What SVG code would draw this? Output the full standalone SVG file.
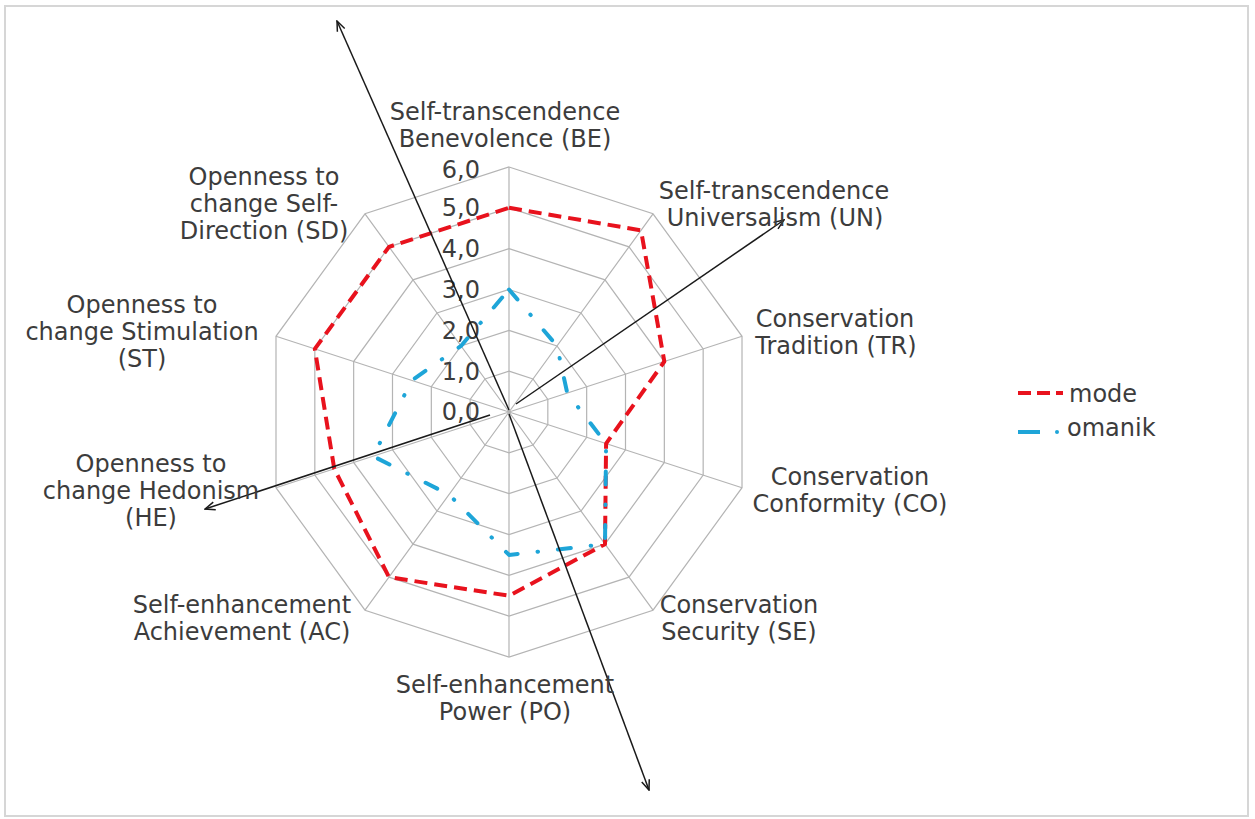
<svg xmlns="http://www.w3.org/2000/svg" width="1255" height="819" viewBox="0 0 1255 819">
<style>
.lbl{font-family:"DejaVu Sans",Verdana,sans-serif;font-size:24px;fill:#3c3c3c;text-anchor:middle}
.tick{font-family:"DejaVu Sans",Verdana,sans-serif;font-size:24px;fill:#3c3c3c;text-anchor:end}
.leg{font-family:"DejaVu Sans",Verdana,sans-serif;font-size:24px;fill:#3c3c3c}
.ring{fill:none;stroke:#b4b4b4;stroke-width:1.2}
.spoke{stroke:#b4b4b4;stroke-width:1.2}
.mode{fill:none;stroke:#e8121d;stroke-width:4;stroke-dasharray:13 7;stroke-linejoin:round}
.oman{fill:none;stroke:#1ea5d8;stroke-width:4;stroke-dasharray:13 20 0.5 20;stroke-linecap:round;stroke-linejoin:round}
.arr{fill:none;stroke:#1a1a1a;stroke-width:1.5;marker-end:url(#ah)}
</style>
<defs>
<marker id="ah" viewBox="0 0 12 10" refX="11" refY="5" markerWidth="12" markerHeight="10" markerUnits="userSpaceOnUse" orient="auto">
<path d="M1,1 L11,5 L1,9" fill="none" stroke="#1a1a1a" stroke-width="1.5"/>
</marker>
</defs>
<rect x="0" y="0" width="1255" height="819" fill="#ffffff"/>
<rect x="5" y="6" width="1243" height="810" fill="#ffffff" stroke="#d6d6d6" stroke-width="2"/>
<g id="grid">
<polygon class="ring" points="509,371.17 533,378.97 547.83,399.38 547.83,424.62 533,445.03 509,452.83 485,445.03 470.17,424.62 470.17,399.38 485,378.97"/>
<polygon class="ring" points="509,330.33 557,345.93 586.67,386.76 586.67,437.24 557,478.07 509,493.67 461,478.07 431.33,437.24 431.33,386.76 461,345.93"/>
<polygon class="ring" points="509,289.5 581,312.9 625.5,374.15 625.5,449.85 581,511.1 509,534.5 437,511.1 392.5,449.85 392.5,374.15 437,312.9"/>
<polygon class="ring" points="509,248.67 605,279.86 664.34,361.53 664.34,462.47 605,544.14 509,575.33 413,544.14 353.66,462.47 353.66,361.53 413,279.86"/>
<polygon class="ring" points="509,207.83 629.01,246.83 703.17,348.91 703.17,475.09 629.01,577.17 509,616.17 388.99,577.17 314.83,475.09 314.83,348.91 388.99,246.83"/>
<polygon class="ring" points="509,167 653.01,213.79 742.01,336.29 742.01,487.71 653.01,610.21 509,657 364.99,610.21 275.99,487.71 275.99,336.29 364.99,213.79"/>
<path class="spoke" d="M509,412L509,167M509,412L653.01,213.79M509,412L742.01,336.29M509,412L742.01,487.71M509,412L653.01,610.21M509,412L509,657M509,412L364.99,610.21M509,412L275.99,487.71M509,412L275.99,336.29M509,412L364.99,213.79"/>
</g>
<g id="ticks">
<text class="tick" x="480" y="178">6,0</text>
<text class="tick" x="480" y="216">5,0</text>
<text class="tick" x="480" y="257">4,0</text>
<text class="tick" x="480" y="298">3,0</text>
<text class="tick" x="480" y="339">2,0</text>
<text class="tick" x="480" y="380">1,0</text>
<text class="tick" x="480" y="420">0,0</text>
</g>
<g id="series-mode">
<polygon class="mode" points="509,207.83 641.01,230.31 664.34,361.53 606.09,443.55 605,544.14 509,595.75 388.99,577.17 334.24,468.78 314.83,348.91 388.99,246.83"/>
</g>
<g id="series-omanik">
<polygon class="oman" points="509,289.5 557,345.93 567.25,393.07 606.09,443.55 605,544.14 509,554.92 449,494.59 373.08,456.16 411.91,380.45 461,345.93"/>
</g>
<g id="connectors">
<line class="arr" x1="509" y1="410" x2="337" y2="21"/>
<line class="arr" x1="509" y1="414" x2="649" y2="790"/>
<line class="arr" x1="516" y1="404" x2="784" y2="220"/>
<line class="arr" x1="490" y1="415" x2="205" y2="509"/>
</g>
<g id="label-BE"><text class="lbl" x="505" y="120">Self-transcendence</text><text class="lbl" x="505" y="147">Benevolence (BE)</text></g>
<g id="label-UN"><text class="lbl" x="774" y="199">Self-transcendence</text><text class="lbl" x="775" y="226">Universalism (UN)</text></g>
<g id="label-TR"><text class="lbl" x="835" y="327">Conservation</text><text class="lbl" x="836" y="354">Tradition (TR)</text></g>
<g id="label-CO"><text class="lbl" x="850" y="485">Conservation</text><text class="lbl" x="850" y="512">Conformity (CO)</text></g>
<g id="label-SE"><text class="lbl" x="739" y="613">Conservation</text><text class="lbl" x="739" y="640">Security (SE)</text></g>
<g id="label-PO"><text class="lbl" x="505" y="693">Self-enhancement</text><text class="lbl" x="505" y="720">Power (PO)</text></g>
<g id="label-AC"><text class="lbl" x="242" y="613">Self-enhancement</text><text class="lbl" x="242" y="640">Achievement (AC)</text></g>
<g id="label-HE"><text class="lbl" x="151" y="472">Openness to</text><text class="lbl" x="151" y="499">change Hedonism</text><text class="lbl" x="151" y="526">(HE)</text></g>
<g id="label-ST"><text class="lbl" x="142" y="313">Openness to</text><text class="lbl" x="142" y="340">change Stimulation</text><text class="lbl" x="142" y="367">(ST)</text></g>
<g id="label-SD"><text class="lbl" x="264" y="185">Openness to</text><text class="lbl" x="264" y="212">change Self-</text><text class="lbl" x="264" y="239">Direction (SD)</text></g>
<g id="legend">
<line x1="1018" y1="393" x2="1063" y2="393" stroke="#e8121d" stroke-width="4" stroke-dasharray="13 6 13 6 3 0"/>
<text class="leg" x="1069" y="402">mode</text>
<line x1="1018" y1="432" x2="1040" y2="432" stroke="#1ea5d8" stroke-width="4"/>
<circle cx="1057" cy="432" r="2" fill="#1ea5d8"/>
<text class="leg" x="1067" y="436">omanik</text>
</g>
</svg>
